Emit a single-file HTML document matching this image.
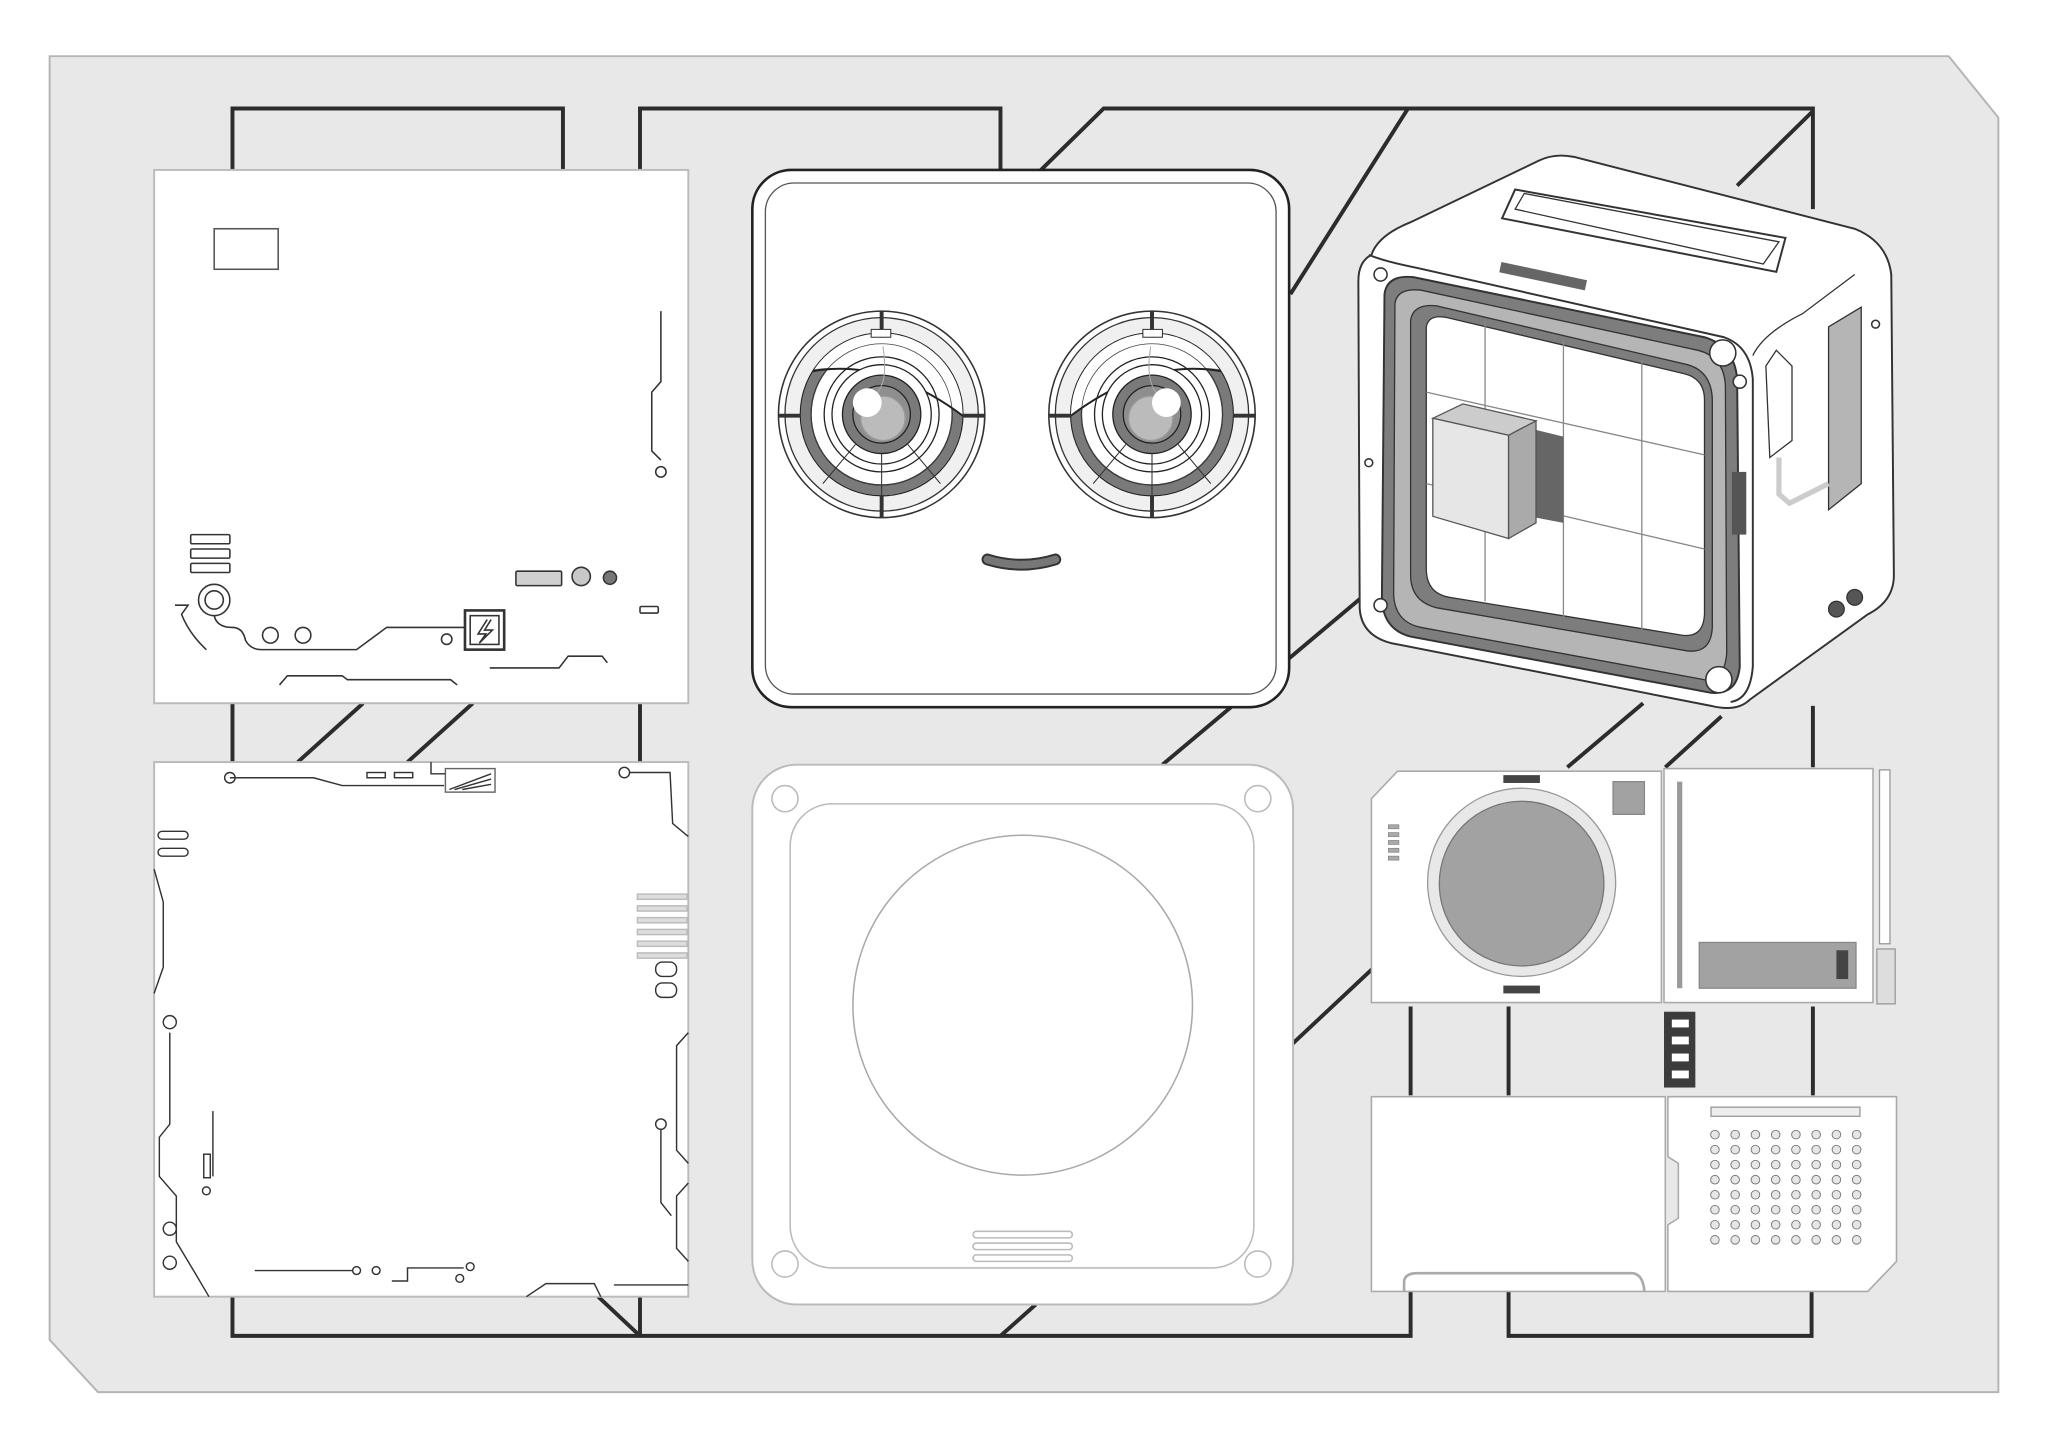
<!DOCTYPE html>
<html><head><meta charset="utf-8"><style>html,body{margin:0;padding:0;background:#fff}svg{display:block}</style></head>
<body>
<svg width="2048" height="1447" viewBox="0 0 1568 1107" preserveAspectRatio="none" xmlns="http://www.w3.org/2000/svg">
<defs><clipPath id="ec"><circle cx="675" cy="317" r="62"/></clipPath></defs>
<rect width="1568" height="1107" fill="#fff"/>
<polygon points="38,43 1492,43 1530,90 1530,1065 75,1065 38,1025" fill="#e9e8e8" stroke="#b5b5b5" stroke-width="1.5"/>
<g stroke="#2c2c2c" stroke-width="3" fill="none">
<polyline points="178,130 178,83 431,83 431,130"/>
<polyline points="490,130 490,83 766,83 766,130"/>
<polyline points="797,130 845,83 1388,83 1388,160"/>
<line x1="988" y1="225" x2="1078" y2="83"/>
<line x1="1330" y1="142" x2="1388" y2="85"/>
<line x1="178" y1="538" x2="178" y2="583"/>
<line x1="490" y1="538" x2="490" y2="583"/>
<line x1="228" y1="583" x2="278" y2="538"/>
<line x1="312" y1="583" x2="362" y2="538"/>
<line x1="890" y1="585" x2="1045" y2="455"/>
<line x1="988" y1="800" x2="1052" y2="740"/>
<line x1="1200" y1="587" x2="1258" y2="538"/>
<line x1="1275" y1="587" x2="1318" y2="548"/>
<line x1="1388" y1="540" x2="1388" y2="587"/>
<line x1="1388" y1="770" x2="1388" y2="838"/>
<line x1="1080" y1="770" x2="1080" y2="838"/>
<line x1="1155" y1="770" x2="1155" y2="838"/>
<polyline points="178,992 178,1022 1080,1022 1080,988"/>
<line x1="458" y1="992" x2="490" y2="1022"/>
<line x1="490" y1="992" x2="490" y2="1022"/>
<line x1="766" y1="1022" x2="793" y2="998"/>
<polyline points="1155,988 1155,1022 1387,1022 1387,988"/>
</g>
<!-- Panel 1 -->
<rect x="118" y="130" width="409" height="408" fill="#fff" stroke="#bbb" stroke-width="1.5"/>
<g stroke="#333" stroke-width="1.2" fill="none">
<rect x="164" y="175" width="49" height="31" stroke="#555"/>
<polyline points="506,238 506,292 499,300 499,345 506,352"/>
<circle cx="506" cy="361" r="4"/>
<rect x="146" y="409" width="30" height="7" rx="1"/><rect x="146" y="420" width="30" height="7" rx="1"/><rect x="146" y="431" width="30" height="7" rx="1"/>
<circle cx="164" cy="459" r="12"/><circle cx="164" cy="459" r="7"/>
<path d="M134,463 L144,463 L139,470 Q145,485 158,497"/>
<path d="M164,471 Q166,480 178,480 Q186,480 188,490 Q192,497 200,497 L273,497 L296,480 L356,480"/>
<circle cx="207" cy="486" r="6"/><circle cx="232" cy="486" r="6"/><circle cx="342" cy="489" r="4"/>
<rect x="356" y="467" width="30" height="30" stroke-width="2"/><rect x="360" y="471" width="22" height="22"/>
<path d="M373,474 L366,485 L372,485 L367,492 L377,482 L371,482 L376,474"/>
<path d="M375,511 L428,511 L435,502 L461,502 L465,507"/>
<path d="M214,524 L220,517 L262,517 L266,520 L345,520 L350,524"/>
<rect x="395" y="437" width="35" height="11" rx="1" fill="#d0d0d0"/>
<circle cx="445" cy="441" r="7" fill="#c8c8c8"/><circle cx="467" cy="442" r="5" fill="#777"/>
<rect x="490" y="464" width="14" height="5" rx="1"/>
</g>
<!-- Panel 4 -->
<rect x="118" y="583" width="409" height="409" fill="#fff" stroke="#bbb" stroke-width="1.5"/>
<g stroke="#333" stroke-width="1.1" fill="none">
<path d="M176,595 L240,595 L262,601 L340,601"/><circle cx="176" cy="595" r="4"/>
<rect x="281" y="591" width="14" height="4"/><rect x="302" y="591" width="14" height="4"/>
<rect x="341" y="588" width="38" height="18" stroke="#666"/>
<path d="M344,604 L376,592 M348,604 L376,596 M354,604 L376,600"/>
<path d="M330,583 L330,592 L341,592"/>
<path d="M482,591 L513,591 L515,630 L527,640"/><circle cx="478" cy="591" r="4"/>
<rect x="121" y="636" width="23" height="6" rx="3"/><rect x="121" y="649" width="23" height="6" rx="3"/>
<path d="M118,665 L125,690 L125,740 L118,760"/>
<path d="M130,790 L130,860 L122,870 L122,900 L135,915 L135,950 L150,975 L160,992"/><circle cx="130" cy="782" r="5"/>
<path d="M163,850 L163,900"/><rect x="156" y="883" width="5" height="18"/><circle cx="158" cy="911" r="3"/>
<circle cx="130" cy="940" r="5"/><circle cx="130" cy="966" r="5"/>
<rect x="488" y="684" width="38" height="4" fill="#ddd" stroke="#bbb"/><rect x="488" y="693" width="38" height="4" fill="#ddd" stroke="#bbb"/><rect x="488" y="702" width="38" height="4" fill="#ddd" stroke="#bbb"/><rect x="488" y="711" width="38" height="4" fill="#ddd" stroke="#bbb"/><rect x="488" y="720" width="38" height="4" fill="#ddd" stroke="#bbb"/><rect x="488" y="729" width="38" height="4" fill="#ddd" stroke="#bbb"/>
<rect x="502" y="736" width="16" height="11" rx="5"/><rect x="502" y="752" width="16" height="11" rx="5"/>
<path d="M527,790 L518,800 L518,880 L527,890 M527,905 L518,915 L518,955 L527,965"/>
<circle cx="506" cy="860" r="4"/><path d="M506,864 L506,920 L514,930"/>
<path d="M195,972 L270,972"/><circle cx="273" cy="972" r="3"/><circle cx="288" cy="972" r="3"/>
<path d="M300,980 L312,980 L312,970 L355,970"/><circle cx="360" cy="969" r="3"/><circle cx="352" cy="978" r="3"/>
<path d="M403,992 L418,982 L455,982 L460,992"/><path d="M470,983 L527,983"/>
</g>
<!-- Panel 2 face -->
<rect x="576" y="130" width="411" height="411" rx="30" fill="#fff" stroke="#222" stroke-width="2"/>
<rect x="586" y="140" width="391" height="391" rx="22" fill="none" stroke="#555" stroke-width="1"/>
<g id="eye">
<circle cx="675" cy="317" r="79" fill="#fff" stroke="#333" stroke-width="1.2"/>
<circle cx="675" cy="317" r="74" fill="#f0f0f0" stroke="#333" stroke-width="1"/>
<circle cx="675" cy="317" r="62" fill="#fff" stroke="#222" stroke-width="1.5"/>
<g clip-path="url(#ec)">
<circle cx="675" cy="317" r="62" fill="#7a7a7a"/>
<circle cx="675" cy="317" r="54" fill="#fff" stroke="#222"/>
<path d="M595,289 Q675,262 752,330 L752,240 L595,240 Z" fill="#fff"/>
<circle cx="675" cy="317" r="54" fill="none" stroke="#444" stroke-width="0.6"/>
<path d="M603,289 Q675,264 752,330" fill="none" stroke="#222" stroke-width="1.5"/>
</g>
<circle cx="675" cy="317" r="44" fill="none" stroke="#222"/>
<circle cx="675" cy="317" r="38" fill="#fff" stroke="#222"/>
<circle cx="675" cy="317" r="30" fill="#7a7a7a" stroke="#222"/>
<circle cx="675" cy="317" r="22" fill="#8e8e8e" stroke="#222"/>
<circle cx="676" cy="320" r="17" fill="#bbb" stroke="#999"/>
<circle cx="664" cy="308" r="11" fill="#fff"/>
<path d="M675,347 L675,379 M655,340 L630,370 M695,340 L720,370" stroke="#333" stroke-width="0.8"/>
<path d="M676,265 Q680,290 672,300" stroke="#aaa" fill="none" stroke-width="0.8"/>
<line x1="675" y1="238" x2="675" y2="255" stroke="#333" stroke-width="3"/>
<line x1="675" y1="379" x2="675" y2="396" stroke="#333" stroke-width="3"/>
<line x1="596" y1="318" x2="613" y2="318" stroke="#333" stroke-width="3"/>
<line x1="737" y1="318" x2="754" y2="318" stroke="#333" stroke-width="3"/>
<rect x="667" y="252" width="15" height="6" fill="#fff" stroke="#333" stroke-width="0.8"/>
</g>
<use href="#eye" transform="translate(882,317) scale(-1,1) translate(-675,-317)"/>
<path d="M756,428 Q782,436 808,428" fill="none" stroke="#333" stroke-width="9" stroke-linecap="round"/>
<path d="M756,428 Q782,436 808,428" fill="none" stroke="#777" stroke-width="6" stroke-linecap="round"/>
<!-- Panel 5 -->
<rect x="576" y="585" width="414" height="413" rx="34" fill="#fff" stroke="#bbb" stroke-width="1.5"/>
<rect x="605" y="615" width="355" height="355" rx="32" fill="none" stroke="#bbb" stroke-width="1.2"/>
<circle cx="783" cy="769" r="130" fill="none" stroke="#aaa" stroke-width="1.2"/>
<g fill="none" stroke="#bbb" stroke-width="1.2"><circle cx="601" cy="611" r="10"/><circle cx="963" cy="611" r="10"/><circle cx="601" cy="967" r="10"/><circle cx="963" cy="967" r="10"/>
<rect x="745" y="942" width="76" height="5" rx="2.5"/><rect x="745" y="951" width="76" height="5" rx="2.5"/><rect x="745" y="960" width="76" height="5" rx="2.5"/></g>
<!-- Toaster -->
<g stroke="#333" stroke-width="1.5">
<path d="M1050,195 Q1055,180 1080,170 L1178,123 Q1190,117 1205,120 L1420,175 Q1445,185 1448,210 L1450,440 Q1450,460 1430,470 L1340,535 Q1330,545 1310,540 L1065,492 Q1042,486 1041,465 L1040,215 Q1040,200 1050,195Z" fill="#fff"/>
<path d="M1048,195 Q1060,200 1085,205 L1320,258 Q1340,265 1342,290 L1342,510 Q1340,535 1325,537" fill="none"/>
<path d="M1342,272 Q1350,255 1380,240 L1420,210" fill="none" stroke-width="1"/>
<polygon points="1150,167 1160,145 1367,182 1360,208" fill="#fff"/>
<polygon points="1160,160 1167,148 1362,185 1350,202" fill="#fff" stroke-width="1"/>
<path d="M1060,225 Q1062,210 1082,212 L1305,258 Q1328,265 1330,290 L1332,510 Q1330,532 1310,530 L1080,487 Q1060,482 1058,460Z" fill="#7d7d7d"/>
<path d="M1068,232 Q1070,220 1088,222 L1300,268 Q1320,273 1321,295 L1322,500 Q1320,522 1305,520 L1088,480 Q1068,476 1067,455Z" fill="#b5b5b5" stroke-width="1"/>
<path d="M1080,245 Q1082,232 1100,234 L1292,279 Q1310,284 1311,305 L1311,480 Q1310,500 1292,498 L1100,465 Q1080,460 1080,440Z" fill="#7d7d7d" stroke-width="1"/>
<path d="M1092,250 Q1094,240 1108,243 L1290,286 Q1305,290 1305,306 L1305,470 Q1304,488 1288,486 L1110,457 Q1092,454 1092,435Z" fill="#fff" stroke-width="1"/>
</g>
<g stroke="#888" stroke-width="1"><line x1="1137" y1="246" x2="1137" y2="460"/><line x1="1197" y1="260" x2="1197" y2="472"/><line x1="1257" y1="275" x2="1257" y2="482"/><line x1="1092" y1="300" x2="1305" y2="348"/><line x1="1092" y1="370" x2="1305" y2="420"/></g>
<polygon points="1160,325 1197,334 1197,400 1160,393" fill="#666"/>
<polygon points="1097,320 1120,309 1176,322 1155,333" fill="#ccc" stroke="#555"/>
<polygon points="1097,320 1155,333 1155,412 1097,395" fill="#e6e6e6" stroke="#555"/>
<polygon points="1155,333 1176,322 1176,400 1155,412" fill="#aaa" stroke="#555"/>
<rect x="1148" y="207" width="67" height="8" fill="#666" transform="rotate(12 1180 211)"/>
<g fill="#fff" stroke="#333" stroke-width="1.2"><circle cx="1319" cy="270" r="10"/><circle cx="1316" cy="520" r="10"/><circle cx="1057" cy="210" r="5"/><circle cx="1332" cy="292" r="5"/><circle cx="1057" cy="463" r="5"/><circle cx="1436" cy="248" r="3"/><circle cx="1048" cy="354" r="3"/></g>
<polygon points="1352,280 1360,268 1372,280 1372,337 1355,350" fill="#fff" stroke="#333"/>
<polygon points="1400,250 1425,235 1425,370 1400,390" fill="#b5b5b5" stroke="#333"/>
<rect x="1326" y="361" width="11" height="48" fill="#555"/>
<circle cx="1406" cy="466" r="6" fill="#555" stroke="#333"/><circle cx="1420" cy="457" r="6" fill="#555" stroke="#333"/>
<path d="M1362,350 L1362,378 L1370,385 L1400,370" stroke="#ccc" stroke-width="4" fill="none"/>
<!-- Panel 6 -->
<polygon points="1050,611 1070,590 1272,590 1272,767 1050,767" fill="#fff" stroke="#aaa" stroke-width="1.2"/>
<circle cx="1165" cy="675" r="72" fill="#e8e8e8" stroke="#999"/>
<circle cx="1165" cy="676" r="63" fill="#a2a2a2" stroke="#777"/>
<rect x="1151" y="593" width="28" height="6" fill="#444"/><rect x="1151" y="754" width="28" height="6" fill="#444"/>
<rect x="1235" y="598" width="24" height="25" fill="#a2a2a2" stroke="#888"/>
<g fill="#aaa" stroke="#888" stroke-width="0.6"><rect x="1063" y="631" width="8" height="3"/><rect x="1063" y="637" width="8" height="3"/><rect x="1063" y="643" width="8" height="3"/><rect x="1063" y="649" width="8" height="3"/><rect x="1063" y="655" width="8" height="3"/></g>
<rect x="1274" y="588" width="160" height="179" fill="#fff" stroke="#aaa" stroke-width="1.2"/>
<rect x="1284" y="598" width="4" height="158" fill="#999"/>
<rect x="1301" y="721" width="120" height="35" fill="#a2a2a2" stroke="#888"/>
<rect x="1406" y="727" width="9" height="22" fill="#444"/>
<rect x="1439" y="589" width="8" height="133" fill="#fff" stroke="#999"/>
<rect x="1437" y="726" width="14" height="42" fill="#ddd" stroke="#999"/>
<rect x="1274" y="774" width="24" height="58" fill="#3c3c3c"/>
<g fill="#fff"><rect x="1280" y="780" width="13" height="6"/><rect x="1280" y="793" width="13" height="6"/><rect x="1280" y="806" width="13" height="6"/><rect x="1280" y="819" width="13" height="6"/></g>
<rect x="1050" y="839" width="225" height="149" fill="#fff" stroke="#aaa" stroke-width="1.2"/>
<path d="M1075,988 L1075,980 Q1076,974 1085,974 L1250,974 Q1258,975 1259,988" fill="none" stroke="#aaa" stroke-width="2"/>
<polygon points="1277,839 1452,839 1452,965 1430,988 1277,988 1277,937 1285,932 1285,890 1277,885" fill="#fff" stroke="#aaa" stroke-width="1.2"/>
<rect x="1310" y="847" width="114" height="7" fill="#eee" stroke="#999"/>
<g fill="#e6e6e6" stroke="#777" stroke-width="0.7">
<g id="row"><circle cx="1313" cy="868" r="3.3"/><circle cx="1328.5" cy="868" r="3.3"/><circle cx="1344" cy="868" r="3.3"/><circle cx="1359.5" cy="868" r="3.3"/><circle cx="1375" cy="868" r="3.3"/><circle cx="1390.5" cy="868" r="3.3"/><circle cx="1406" cy="868" r="3.3"/><circle cx="1421.5" cy="868" r="3.3"/></g>
<use href="#row" y="11.5"/><use href="#row" y="23"/><use href="#row" y="34.5"/><use href="#row" y="46"/><use href="#row" y="57.5"/><use href="#row" y="69"/><use href="#row" y="80.5"/>
</g>
</svg>
</body></html>
